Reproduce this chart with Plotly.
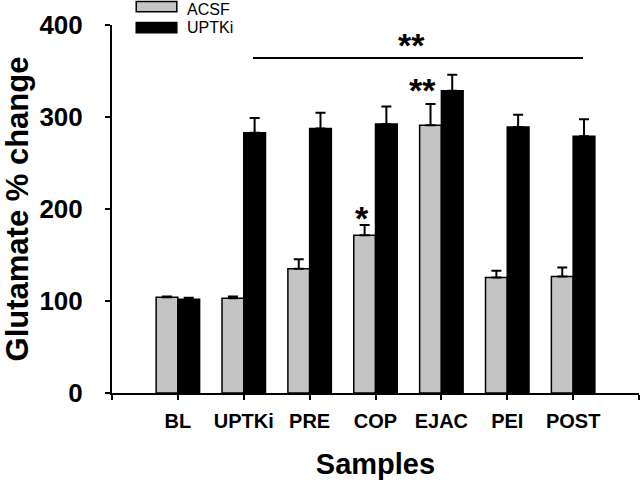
import plotly.graph_objects as go

# data (glutamate % change, mean + SEM)
samples = ['BL', 'UPTKi', 'PRE', 'COP', 'EJAC', 'PEI', 'POST']
acsf_mean = [104, 103, 135, 171.5, 291, 125.5, 126.5]
acsf_sem = [1, 2, 10.5, 11, 23, 7.5, 10]
uptki_mean = [102, 283, 287.5, 292.5, 328.5, 289, 279]
uptki_sem = [1.5, 16, 17, 19, 17.5, 13.5, 18.5]

# significance marks
sig_line_x = [1.14, 6.15]
sig_line_y = 364
stars = [('**', 3.55, 384), ('**', 3.72, 335), ('*', 2.79, 196)]

x = list(range(len(samples)))
FONT = 'Liberation Sans, Arial, sans-serif'

fig = go.Figure()

fig.add_trace(go.Bar(
    x=x, y=acsf_mean, name='ACSF',
    marker=dict(color='#c4c4c4', line=dict(color='black', width=1.5)),
    error_y=dict(type='data', symmetric=False, array=acsf_sem,
                 arrayminus=[0] * len(acsf_sem), color='black',
                 thickness=2, width=5),
))
fig.add_trace(go.Bar(
    x=x, y=uptki_mean, name='UPTKi',
    marker=dict(color='black', line=dict(color='black', width=1.5)),
    error_y=dict(type='data', symmetric=False, array=uptki_sem,
                 arrayminus=[0] * len(uptki_sem), color='black',
                 thickness=2, width=5),
))

# bracket line over the UPTKi groups
fig.add_shape(type='line', xref='x', yref='y',
              x0=sig_line_x[0], x1=sig_line_x[1], y0=sig_line_y, y1=sig_line_y,
              line=dict(color='black', width=2))

for txt, sx, sy in stars:
    fig.add_annotation(x=sx, y=sy, text=txt, showarrow=False,
                       xref='x', yref='y', yshift=-5,
                       font=dict(family=FONT, size=34, color='black', weight='bold'))

# hand-drawn legend (wide flat swatches like the original)
legend_items = [('ACSF', '#c4c4c4', 1.050, 1.042), ('UPTKi', 'black', 0.993, 0.993)]
for name, col, yc, ty in legend_items:
    fig.add_shape(type='rect', xref='paper', yref='paper',
                  x0=0.046, x1=0.123, y0=yc - 0.014, y1=yc + 0.014,
                  fillcolor=col, line=dict(color='black', width=1.5))
    fig.add_annotation(x=0.138, y=ty, xref='paper', yref='paper',
                       text=name, showarrow=False, xanchor='left', yanchor='middle',
                       font=dict(family=FONT, size=16, color='black'))

fig.update_layout(
    width=640, height=483,
    margin=dict(l=112, r=1, t=25, b=90),
    plot_bgcolor='white', paper_bgcolor='white',
    barmode='group', bargap=0.34, bargroupgap=0,
    showlegend=False,
    font=dict(family=FONT, color='black'),
)

fig.update_xaxes(
    range=[-1, 7], tickmode='array',
    tickvals=list(range(-1, len(samples) + 1)),
    ticktext=[''] + samples + [''],
    showline=True, linecolor='black', linewidth=2,
    ticks='outside', ticklen=5, tickwidth=2, tickcolor='black',
    showgrid=False, zeroline=False,
    ticklabelstandoff=4,
    tickfont=dict(family=FONT, size=20, weight='bold'),
    title=dict(text='Samples', standoff=23,
               font=dict(family=FONT, size=29, weight='bold')),
)
fig.update_yaxes(
    range=[0, 400], tickvals=[0, 100, 200, 300, 400],
    showline=True, linecolor='black', linewidth=2,
    ticks='outside', ticklen=5, tickwidth=1.5, tickcolor='black',
    showgrid=False, zeroline=False,
    ticklabelstandoff=17,
    tickfont=dict(family=FONT, size=26, weight='bold'),
    title=dict(text='Glutamate % change', standoff=16,
               font=dict(family=FONT, size=31, weight='bold')),
)

fig.write_html('out.html', config={'displayModeBar': False},
               post_script="document.body.style.margin='0';")
